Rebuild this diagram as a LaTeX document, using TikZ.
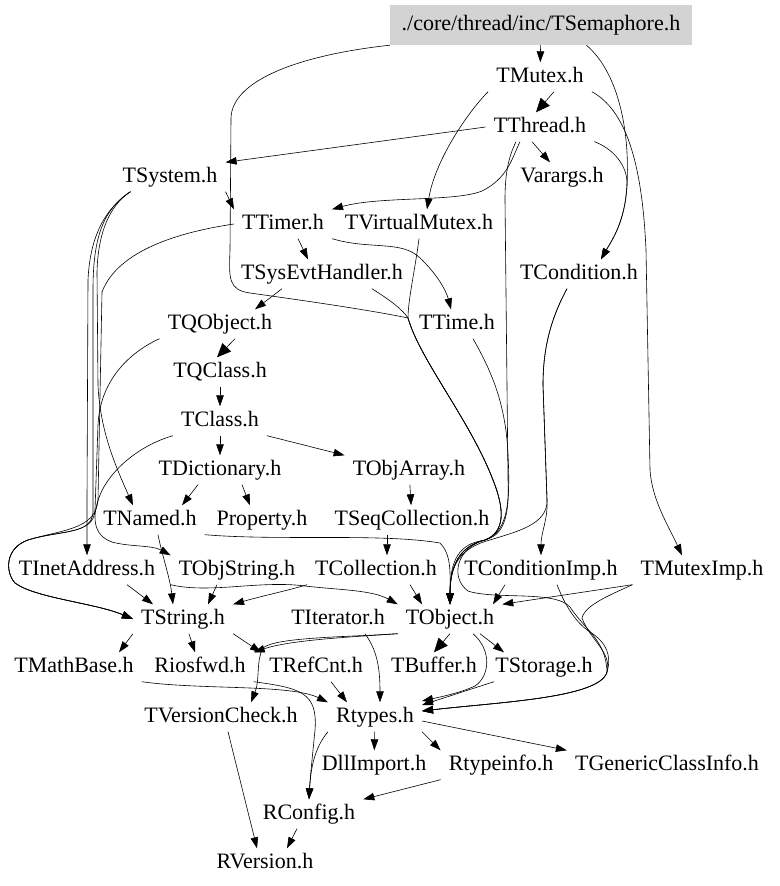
\documentclass[tikz,border=0pt]{standalone}
\usepackage{fontspec}
\setmainfont{Liberation Serif}
\usetikzlibrary{arrows.meta}
\definecolor{semfill}{RGB}{211,211,211}

\begin{document}
\begin{tikzpicture}[x=1pt, y=-1pt,
    hdr/.style={font=\fontsize{22}{26}\selectfont, inner xsep=8pt, inner ysep=4.5pt, text height=15pt, text depth=5pt},
    dep/.style={-{Triangle[length=11pt,width=7.5pt]}, line width=0.6pt},
    depbold/.style={-{Triangle[length=14pt,width=12pt]}, line width=0.6pt}]
		\useasboundingbox (0,0) rectangle (779,886);

		% Nodes
		\node[hdr, fill=semfill, inner sep=0pt, minimum width=302pt, minimum height=40pt] (sem) at (541,25) {./core/thread/inc/TSemaphore.h};
		\node[hdr] (TMutex) at (540,77) {TMutex.h};
		\node[hdr] (TThread) at (540,127) {TThread.h};
		\node[hdr] (TSystem) at (170,177) {TSystem.h};
		\node[hdr] (Varargs) at (562,177) {Varargs.h};
		\node[hdr] (TTimer) at (283,224) {TTimer.h};
		\node[hdr] (TVirtualMutex) at (419,224) {TVirtualMutex.h};
		\node[hdr] (TSysEvtHandler) at (322,274) {TSysEvtHandler.h};
		\node[hdr] (TCondition) at (579,274) {TCondition.h};
		\node[hdr] (TQObject) at (220,324) {TQObject.h};
		\node[hdr] (TTime) at (457,324) {TTime.h};
		\node[hdr] (TQClass) at (220,372) {TQClass.h};
		\node[hdr] (TClass) at (220,421) {TClass.h};
		\node[hdr] (TDictionary) at (220,470) {TDictionary.h};
		\node[hdr] (TObjArray) at (409,470) {TObjArray.h};
		\node[hdr] (TNamed) at (150,520) {TNamed.h};
		\node[hdr] (Property) at (262,520) {Property.h};
		\node[hdr] (TSeqCollection) at (412,520) {TSeqCollection.h};
		\node[hdr] (TInetAddress) at (87,570) {TInetAddress.h};
		\node[hdr] (TObjString) at (237,570) {TObjString.h};
		\node[hdr] (TCollection) at (376,570) {TCollection.h};
		\node[hdr] (TConditionImp) at (541,570) {TConditionImp.h};
		\node[hdr] (TMutexImp) at (702,570) {TMutexImp.h};
		\node[hdr] (TString) at (183,619) {TString.h};
		\node[hdr] (TIterator) at (338,619) {TIterator.h};
		\node[hdr] (TObject) at (450,619) {TObject.h};
		\node[hdr] (TMathBase) at (74,667) {TMathBase.h};
		\node[hdr] (Riosfwd) at (200,667) {Riosfwd.h};
		\node[hdr] (TRefCnt) at (316,667) {TRefCnt.h};
		\node[hdr] (TBuffer) at (434,667) {TBuffer.h};
		\node[hdr] (TStorage) at (544,667) {TStorage.h};
		\node[hdr] (TVersionCheck) at (221,717) {TVersionCheck.h};
		\node[hdr] (Rtypes) at (375,717) {Rtypes.h};
		\node[hdr] (DllImport) at (374,765) {DllImport.h};
		\node[hdr] (Rtypeinfo) at (501,765) {Rtypeinfo.h};
		\node[hdr] (TGenericClassInfo) at (667,765) {TGenericClassInfo.h};
		\node[hdr] (RConfig) at (309,814) {RConfig.h};
		\node[hdr] (RVersion) at (265,863) {RVersion.h};

		% TSemaphore.h
		\draw[dep] (sem) -- (TMutex);
		\draw[dep] (sem.-24) .. controls (618,72) and (630,130) .. (627,185) .. controls (625,222) and (612,240) .. ([xshift=22pt]TCondition.north);
		\draw[dep] (sem.south west) .. controls (300,55) and (232,80) .. (231,118) -- (230,250) .. controls (229,278) and (228,290) .. (250,293) .. controls (300,300) and (370,310) .. (408,318) .. controls (420,360) and (470,420) .. (493,480) .. controls (505,510) and (505,532) .. (485,540) .. controls (460,546) and (450,565) .. (TObject.north);

		% TMutex.h
		\draw[depbold] ([xshift=14pt]TMutex.south) -- ([xshift=-4pt]TThread.north);
		\draw[dep] (TMutex.south west) .. controls (468,112) and (435,160) .. ([xshift=8pt]TVirtualMutex.north);
		\draw[dep] (TMutex.south east) .. controls (625,110) and (642,160) .. (646,250) -- (650,470) .. controls (652,500) and (668,525) .. ([xshift=-20pt]TMutexImp.north);

		% TThread.h
		\draw[dep] (TThread.west) -- (TSystem.north east);
		\draw[dep] ([xshift=-8pt]TThread.south) -- ([xshift=-12pt]Varargs.north);
		\draw[dep] ([xshift=-20pt]TThread.south) .. controls (512,158) and (508,178) .. (482,191) .. controls (455,202) and (380,196) .. (TTimer.north east);
		\draw[dep] ([xshift=-24pt]TThread.south) .. controls (508,158) and (505,175) .. (505,200) -- (508,480) .. controls (510,525) and (500,538) .. (480,541) .. controls (456,546) and (450,565) .. (TObject.north);
		\draw[dep] (TThread.south east) .. controls (612,148) and (628,165) .. (627,185) .. controls (625,222) and (612,240) .. ([xshift=22pt]TCondition.north);

		% TSystem.h
		\draw[dep] (TSystem.south east) -- (TTimer.north west);
		\draw[dep] ([xshift=16pt]TSystem.south west) .. controls (110,205) and (98,232) .. (97,272) -- (98,385) .. controls (100,430) and (115,465) .. ([xshift=-17pt]TNamed.north);
		\draw[dep] ([xshift=16pt]TSystem.south west) .. controls (106,208) and (90,235) .. (88,280) -- (87,500) .. controls (87,525) and (87,540) .. (TInetAddress.north);
		\draw[dep] ([xshift=16pt]TSystem.south west) .. controls (102,210) and (93,240) .. (93,290) -- (93,512) .. controls (92,535) and (60,530) .. (28,540) .. controls (5,548) and (5,572) .. (15,583) .. controls (35,598) and (95,603) .. (TString.west);

		% TTimer.h
		\draw[dep] ([xshift=15pt]TTimer.south) -- ([xshift=-14pt]TSysEvtHandler.north);
		\draw[dep] (TTimer.south east) .. controls (370,250) and (402,240) .. (420,258) .. controls (436,273) and (446,290) .. ([xshift=-6pt]TTime.north);
		\draw[dep] (TTimer.west) .. controls (180,232) and (118,250) .. (102,292) -- (98,500) .. controls (96,530) and (60,530) .. (28,540) .. controls (5,548) and (5,572) .. (15,583) .. controls (35,598) and (95,603) .. (TString.west);

		% TVirtualMutex.h
		\draw[dep] (TVirtualMutex.south) .. controls (415,270) and (408,300) .. (408,318) .. controls (420,360) and (470,420) .. (493,480) .. controls (505,510) and (505,532) .. (485,540) .. controls (460,546) and (450,565) .. (TObject.north);

		% TSysEvtHandler.h
		\draw[dep] ([xshift=-40pt]TSysEvtHandler.south) -- ([xshift=35pt]TQObject.north);
		\draw[dep] ([xshift=50pt]TSysEvtHandler.south) .. controls (390,300) and (403,310) .. (408,318) .. controls (420,360) and (470,420) .. (493,480) .. controls (505,510) and (505,532) .. (485,540) .. controls (460,546) and (450,565) .. (TObject.north);

		% TCondition.h
		\draw[dep] ([xshift=-12pt]TCondition.south) .. controls (550,320) and (543,350) .. (543,385) -- (547,500) .. controls (548,520) and (541,532) .. (TConditionImp.north);
		\draw[dep] ([xshift=-12pt]TCondition.south) .. controls (550,320) and (543,350) .. (543,385) -- (547,500) .. controls (548,525) and (515,532) .. (490,540) .. controls (460,548) and (450,565) .. (TObject.north);

		% TQObject.h
		\draw[depbold] ([xshift=15pt]TQObject.south) -- ([xshift=-3pt]TQClass.north);
		\draw[dep] (TQObject.south west) .. controls (130,352) and (100,380) .. (98,425) -- (95,510) .. controls (94,535) and (60,530) .. (28,540) .. controls (5,548) and (5,572) .. (15,583) .. controls (35,598) and (95,603) .. (TString.west);

		% TQClass.h, TClass.h
		\draw[dep] (TQClass) -- (TClass);
		\draw[dep] (TClass) -- (TDictionary);
		\draw[dep] (TClass.south east) -- (TObjArray.north west);
		\draw[dep] (TClass.south west) .. controls (140,445) and (110,470) .. (100,495) .. controls (92,515) and (92,535) .. (112,542) .. controls (130,547) and (152,545) .. (TObjString.north west);

		% TDictionary.h
		\draw[dep] ([xshift=-22pt]TDictionary.south) -- ([xshift=32pt]TNamed.north);
		\draw[dep] ([xshift=22pt]TDictionary.south) -- ([xshift=-12pt]Property.north);

		% TObjArray.h, TSeqCollection.h
		\draw[dep] (TObjArray) -- (TSeqCollection);
		\draw[dep] ([xshift=-25pt]TSeqCollection.south) -- ([xshift=11pt]TCollection.north);

		% TNamed.h
		\draw[dep] ([xshift=8pt]TNamed.south) .. controls (162,555) and (170,578) .. ([xshift=-10pt]TString.north);
		\draw[dep] (TNamed.south east) .. controls (280,541) and (380,533) .. (440,543) .. controls (452,555) and (450,575) .. (TObject.north);

		% TInetAddress.h, TObjString.h
		\draw[dep] ([xshift=40pt]TInetAddress.south) -- ([xshift=-30pt]TString.north);
		\draw[dep] ([xshift=-20pt]TObjString.south) -- ([xshift=25pt]TString.north);
		\draw[dep] (TObjString.south west) .. controls (210,594) and (260,580) .. (305,586) .. controls (340,590) and (372,590) .. (TObject.north west);

		% TCollection.h
		\draw[dep] (TCollection.south west) .. controls (290,590) and (262,596) .. (TString.north east);
		\draw[dep] ([xshift=34pt]TCollection.south) -- ([xshift=-28pt]TObject.north);

		% TConditionImp.h, TMutexImp.h
		\draw[dep] ([xshift=-36pt]TConditionImp.south) -- ([xshift=43pt]TObject.north);
		\draw[dep] ([xshift=16pt]TConditionImp.south) .. controls (565,605) and (575,622) .. (590,632) .. controls (606,642) and (612,655) .. (607,672) .. controls (600,698) and (500,702) .. ([yshift=6pt]Rtypes.east);
		\draw[dep] (TMutexImp.south west) -- (TObject.north east);
		\draw[dep] (TMutexImp.south west) .. controls (610,595) and (585,605) .. (582,618) .. controls (590,640) and (612,652) .. (607,672) .. controls (600,698) and (500,702) .. ([yshift=6pt]Rtypes.east);

		% TTime.h
		\draw[dep] ([xshift=16pt]TTime.south) .. controls (492,372) and (506,405) .. (508,455) .. controls (511,512) and (505,532) .. (485,540) .. controls (456,548) and (450,578) .. (468,591) .. controls (495,600) and (555,590) .. (570,607) .. controls (585,630) and (606,640) .. (607,672) .. controls (600,698) and (500,702) .. ([yshift=6pt]Rtypes.east);

		% TString.h
		\draw[dep] (TString.south west) -- ([xshift=45pt]TMathBase.north);
		\draw[dep] ([xshift=6pt]TString.south) -- ([xshift=-5pt]Riosfwd.north);
		\draw[dep] (TString.south east) -- (TRefCnt.north west);

		% TIterator.h
		\draw[dep] ([xshift=27pt]TIterator.south) .. controls (377,650) and (380,668) .. ([xshift=5pt]Rtypes.north);

		% TObject.h
		\draw[depbold] (TObject.south) -- (TBuffer.north);
		\draw[dep] ([xshift=30pt]TObject.south) -- ([xshift=-40pt]TStorage.north);
		\draw[dep] ([xshift=23pt]TObject.south) .. controls (492,650) and (490,676) .. (475,686) .. controls (460,693) and (440,697) .. ([yshift=16pt]Rtypes.east);
		\draw[dep] (TObject.south west) .. controls (350,637) and (290,640) .. (Riosfwd.north east);
		\draw[dep] (TObject.south west) .. controls (350,637) and (275,637) .. (263,648) .. controls (256,660) and (260,680) .. ([xshift=30pt]TVersionCheck.north);

		% TMathBase.h, Riosfwd.h, TRefCnt.h, TStorage.h
		\draw[dep] (TMathBase.south east) .. controls (200,690) and (290,684) .. (Rtypes.north west);
		\draw[dep] (Riosfwd.south east) .. controls (300,688) and (318,692) .. (315,730) .. controls (312,760) and (310,780) .. (RConfig.north);
		\draw[dep] ([xshift=15pt]TRefCnt.south) -- ([xshift=-28pt]Rtypes.north);
		\draw[dep] ([xshift=-50pt]TStorage.south) -- ([yshift=12pt]Rtypes.east);

		% TVersionCheck.h
		\draw[dep] ([xshift=7pt]TVersionCheck.south) -- ([xshift=-8pt]RVersion.north);

		% Rtypes.h
		\draw[dep] (Rtypes) -- (DllImport);
		\draw[dep] (Rtypes.south east) -- (Rtypeinfo.north west);
		\draw[dep] ([yshift=-4pt]Rtypes.east) -- (TGenericClassInfo.north west);
		\draw[dep] (Rtypes.south west) .. controls (317,745) and (311,762) .. (RConfig.north);

		% Rtypeinfo.h, RConfig.h
		\draw[dep] (Rtypeinfo.south west) -- (RConfig.north east);
		\draw[dep] ([xshift=-12pt]RConfig.south) -- ([xshift=22pt]RVersion.north);
	\end{tikzpicture}
\end{document}
